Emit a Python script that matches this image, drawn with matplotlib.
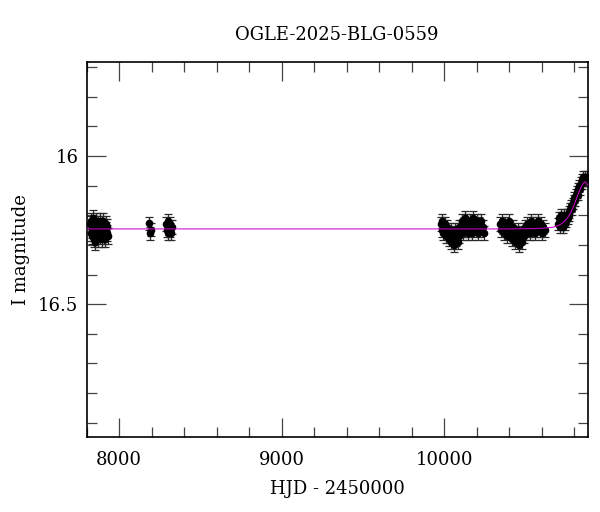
import matplotlib
matplotlib.use("Agg")
import matplotlib.pyplot as plt
from matplotlib.ticker import MultipleLocator

# OGLE photometry (HJD - 2450000, I mag)
t1 = [7822, 7825, 7828, 7830, 7833, 7835, 7838, 7840, 7843, 7846, 7848, 7851, 7854,
      7856, 7859, 7862, 7865, 7868, 7871, 7874, 7877, 7880, 7883, 7886, 7889, 7892,
      7895, 7898, 7901, 7904, 7907, 7910, 7913, 7916, 7919, 7922, 7925, 7928]
m1 = [16.23, 16.26, 16.22, 16.25, 16.27, 16.24, 16.21, 16.26, 16.28, 16.25, 16.23, 16.27,
      16.29, 16.24, 16.22, 16.26, 16.25, 16.28, 16.23, 16.24, 16.26, 16.22, 16.27, 16.25,
      16.24, 16.28, 16.23, 16.26, 16.22, 16.25, 16.27, 16.24, 16.28, 16.23, 16.25, 16.26,
      16.24, 16.27]

t2 = [8186, 8190, 8193]
m2 = [16.227, 16.261, 16.248]

t3 = [8290, 8294, 8298, 8302, 8306, 8310, 8314, 8318, 8322]
m3 = [16.23, 16.25, 16.22, 16.26, 16.24, 16.25, 16.23, 16.26, 16.24]

t4 = [9978, 9983, 9988, 9993, 9998, 10003, 10008, 10013, 10018, 10023, 10028, 10033,
      10038, 10043, 10048, 10053, 10058, 10063, 10068, 10073, 10078, 10083, 10088, 10093,
      10098, 10103, 10108, 10113, 10118, 10123, 10128, 10133, 10138, 10143, 10148, 10153,
      10158, 10163, 10168, 10173, 10178, 10185, 10192, 10199, 10206, 10213, 10220, 10228,
      10236, 10245]
m4 = [16.23, 16.25, 16.22, 16.26, 16.24, 16.23, 16.27, 16.25, 16.24, 16.26, 16.28,
      16.27, 16.25, 16.29, 16.28, 16.26, 16.30, 16.27, 16.25, 16.28, 16.26, 16.29, 16.24,
      16.27, 16.25,
      16.24, 16.22, 16.26, 16.23, 16.25, 16.21, 16.24, 16.22, 16.26, 16.23, 16.25, 16.22,
      16.24, 16.26, 16.23, 16.21, 16.25, 16.24, 16.22, 16.26, 16.23, 16.25, 16.22, 16.24,
      16.26]

t5 = [10345, 10351, 10357, 10363, 10369, 10375, 10381, 10387, 10393, 10399, 10405, 10411,
      10417, 10423, 10429, 10435, 10441, 10447, 10453, 10459, 10465, 10471, 10477, 10483,
      10489, 10495, 10501, 10507, 10513, 10519, 10525, 10531, 10537, 10543, 10549, 10555,
      10561, 10567, 10573, 10579, 10586, 10594, 10602, 10610, 10618]
m5 = [16.23, 16.25, 16.22, 16.24, 16.26, 16.23, 16.25, 16.27, 16.24, 16.22,
      16.26, 16.25, 16.28, 16.24, 16.27, 16.29, 16.26, 16.28, 16.25, 16.30,
      16.27, 16.26, 16.29, 16.25, 16.27, 16.24, 16.26, 16.23, 16.25, 16.24,
      16.26, 16.22, 16.25, 16.23, 16.24, 16.26, 16.23, 16.25, 16.24, 16.22,
      16.25, 16.23, 16.26, 16.24, 16.25]

t6 = [10702, 10706, 10710, 10714, 10718, 10722, 10726, 10730, 10734, 10738, 10742, 10746,
      10750, 10755, 10760, 10765, 10770, 10775, 10780, 10785, 10790, 10795, 10800, 10805,
      10810, 10815, 10820, 10825, 10830, 10835, 10840, 10845, 10850, 10855, 10860, 10865,
      10870, 10875, 10879]
m6 = [16.23, 16.21, 16.24, 16.22, 16.20, 16.23, 16.21, 16.24, 16.22, 16.20, 16.23, 16.21,
      16.22, 16.20, 16.21, 16.19, 16.20, 16.18, 16.17, 16.18, 16.16, 16.15, 16.14, 16.15,
      16.13, 16.12, 16.13, 16.11, 16.10, 16.11, 16.09, 16.08, 16.09, 16.07, 16.08, 16.07,
      16.08, 16.07, 16.08]

seasons = [(t1, m1, 0.027), (t2, m2, 0.022), (t3, m3, 0.024),
           (t4, m4, 0.024), (t5, m5, 0.024), (t6, m6, 0.02)]

# model curve, points
model_t = [7800, 10400, 10550, 10620, 10670, 10700, 10720, 10740, 10760, 10780, 10800,
           10820, 10840, 10855, 10865, 10875, 10882]
model_m = [16.246, 16.246, 16.245, 16.243, 16.240, 16.235, 16.229, 16.220, 16.207, 16.188,
           16.163, 16.133, 16.106, 16.092, 16.087, 16.091, 16.098]

plt.rcParams['font.family'] = ['DejaVu Serif']

fig = plt.figure(figsize=(6, 5.12), dpi=100)
ax = fig.add_axes([0.1445, 0.147, 0.835, 0.732])

for t, m, e in seasons:
    ax.errorbar(t, m, yerr=e, fmt='o', color='black', ms=4.5, elinewidth=0.9,
                ecolor='#2a2a2a', capsize=2.6, capthick=0.9, zorder=2)

ax.plot(model_t, model_m, color='#cc00cc', lw=0.75, zorder=3)

ax.set_xlim(7800, 10882)
ax.set_ylim(16.948, 15.682)

ax.xaxis.set_major_locator(MultipleLocator(1000))
ax.xaxis.set_minor_locator(MultipleLocator(200))
ax.yaxis.set_major_locator(MultipleLocator(0.5))
ax.yaxis.set_minor_locator(MultipleLocator(0.1))
ax.yaxis.set_major_formatter(plt.FuncFormatter(lambda v, p: f"{v:g}"))

ax.tick_params(which='both', direction='in', top=True, right=True, labelsize=13,
               color='#444444', width=0.9)
ax.tick_params(which='major', length=13.5)
ax.tick_params(which='minor', length=7)
ax.tick_params(axis='x', which='major', pad=10)
ax.tick_params(axis='y', which='major', pad=6)
for s in ax.spines.values():
    s.set_linewidth(1.2)

ax.set_xlabel("HJD - 2450000", fontsize=13, labelpad=8)
ax.set_ylabel("I magnitude", fontsize=13)
ax.yaxis.set_label_coords(-0.113, 0.5)
ax.set_title("OGLE-2025-BLG-0559", fontsize=13, pad=16)

fig.savefig("out.png", dpi=100)
